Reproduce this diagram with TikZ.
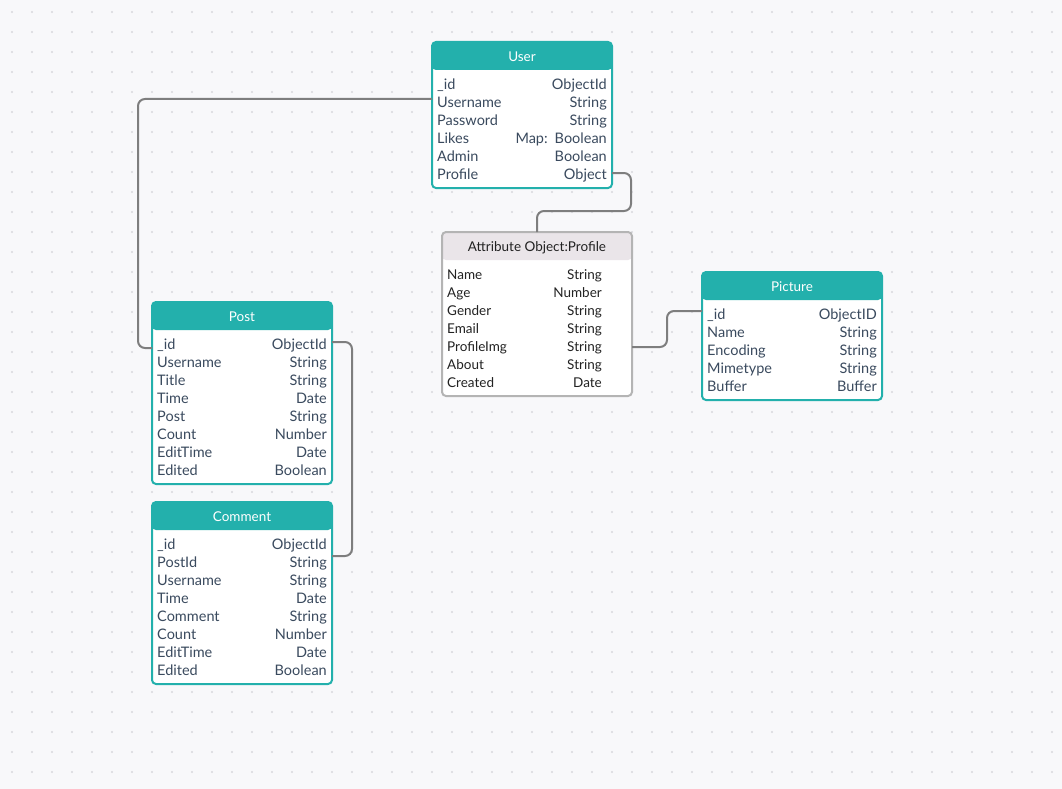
\documentclass[tikz,border=0pt]{standalone}
\usepackage{fontspec}
\setmainfont{Lato}
\usetikzlibrary{calc}

\definecolor{canvas}{HTML}{F8F8FA}
\definecolor{griddot}{HTML}{D8D8DD}
\definecolor{headteal}{HTML}{23B0AC}
\definecolor{rowink}{HTML}{3A4A5E}
\definecolor{attrink}{HTML}{222222}
\definecolor{attrhead}{HTML}{EAE5E9}
\definecolor{attrline}{HTML}{B4B4B4}
\definecolor{wire}{HTML}{7E7E7E}

\tikzset{
  tablebox/.style 2 args={draw=#1, fill=white, line width=2pt, rounded corners=4pt,
    inner sep=0pt, outer sep=0pt, anchor=north west,
    path picture={\fill[#2] (path picture bounding box.north west)
      rectangle ([yshift=-28pt]path picture bounding box.north east);}},
  headtext/.style={inner sep=0pt, anchor=base, font=\fontsize{13.5}{16}\selectfont},
  keytext/.style={inner sep=0pt, anchor=base west, font=\fontsize{#1}{16}\selectfont},
  typetext/.style={inner sep=0pt, anchor=base east, font=\fontsize{#1}{16}\selectfont},
  wire/.style={draw=wire, line width=2pt, rounded corners=7pt},
}

% \ertable{name}{x}{y}{width}{row count}{title}{right inset}{border/head/title/row colour/row size}{rows}
\newcommand\ertable[9]{%
  \edef\ercols{#8}%
  \expandafter\ersplit\ercols\relax
  \node[tablebox={\erborder}{\erhead}, minimum width=#4pt,
        minimum height={38pt+18pt*#5}] (#1) at (#2,#3) {};
  \node[headtext, text=\ertitle] (#1-title) at ($(#1.north)+(0,19.5)$) {#6};
  \foreach \k/\t [count=\i] in {#9} {
    \node[keytext=\ersize, text=\errow] (#1-k\i) at ($(#1.north west)+(5,{47.5+18*(\i-1)})$) {\k};
    \node[typetext=\ersize, text=\errow] (#1-t\i) at ($(#1.north east)+(-#7,{47.5+18*(\i-1)})$) {\t};
  }%
}
\def\ersplit#1/#2/#3/#4/#5\relax{\def\erborder{#1}\def\erhead{#2}\def\ertitle{#3}\def\errow{#4}\def\ersize{#5}}

\begin{document}
\begin{tikzpicture}[x=1pt, y=-1pt]
  % canvas and dotted grid
  \fill[canvas] (0,0) rectangle (1062,789);
  \useasboundingbox (0,0) rectangle (1062,789);
  \foreach \gx in {12,32,...,1052}
    \foreach \gy in {12,32,...,772}
      \fill[griddot] (\gx,\gy) circle (1.1);

  % tables
  \ertable{user}{432}{42}{180}{6}{User}{5}{headteal/headteal/white/rowink/14.5}
    {\_id/ObjectId, Username/String, Password/String, Likes/Map:\hspace{7pt}Boolean,
     Admin/Boolean, Profile/Object}
  \ertable{attr}{442}{232}{190}{7}{Attribute Object:Profile}{30}{attrline/attrhead/attrink/attrink/13.5}
    {Name/String, Age/Number, Gender/String, Email/String, ProfileImg/String,
     About/String, Created/Date}
  \ertable{picture}{702}{272}{180}{5}{Picture}{5}{headteal/headteal/white/rowink/14.5}
    {\_id/ObjectID, Name/String, Encoding/String, Mimetype/String, Buffer/Buffer}
  \ertable{post}{152}{302}{180}{8}{Post}{5}{headteal/headteal/white/rowink/14.5}
    {\_id/ObjectId, Username/String, Title/String, Time/Date, Post/String,
     Count/Number, EditTime/Date, Edited/Boolean}
  \ertable{comment}{152}{502}{180}{8}{Comment}{5}{headteal/headteal/white/rowink/14.5}
    {\_id/ObjectId, PostId/String, Username/String, Time/Date, Comment/String,
     Count/Number, EditTime/Date, Edited/Boolean}

  % relations
  \draw[wire] ($(user.north west)+(0,57)$) -| ($(post.north west)+(-14,46)$)
    -- ($(post.north west)+(0,46)$);
  \draw[wire] ($(user.north east)+(0,131)$) -- ++(19,0) |- ($(attr.north)+(0,-21)$)
    -- (attr.north);
  \draw[wire] ($(attr.north east)+(0,115)$) -- ++(35,0) |- ($(picture.north west)+(0,39)$);
  \draw[wire] ($(post.north east)+(0,40)$) -- ++(20,0) |- ($(comment.north east)+(0,54)$);
\end{tikzpicture}
\end{document}
